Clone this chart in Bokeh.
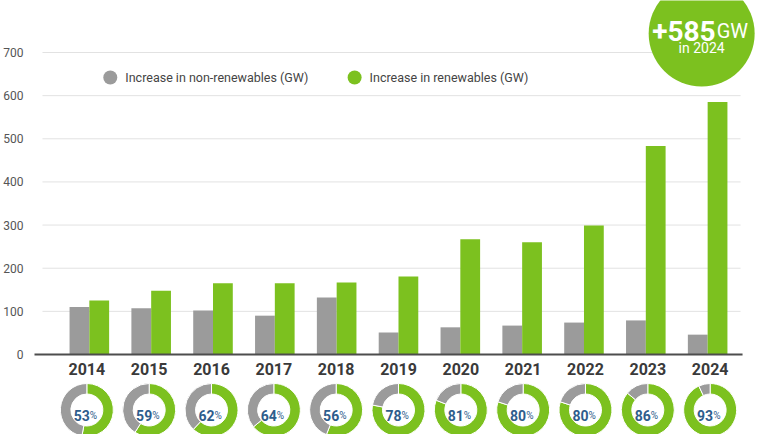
import numpy as np
from bokeh.plotting import figure
from bokeh.models import Range1d, FixedTicker
from bokeh.core.properties import value
from bokeh.embed import file_html
from bokeh.resources import INLINE

# Annual capacity additions (GW)
years = ["2014", "2015", "2016", "2017", "2018", "2019", "2020", "2021", "2022", "2023", "2024"]
non_renewables = [110, 107, 102, 90, 132, 51, 63, 67, 74, 79, 46]
renewables = [125, 148, 165, 165, 167, 181, 267, 260, 299, 483, 585]
renewable_share = [53, 59, 62, 64, 56, 78, 81, 80, 80, 86, 93]
y_ticks = [0, 100, 200, 300, 400, 500, 600, 700]

GREEN = "#7cc11f"
GREY = "#9b9b9b"
FONT = value("Roboto")

W, H = 760, 434
LEFT = 30
# category spacing and vertical scale of the drawing area
STEP_PX = 62.0
FIRST_PX = 87.0
ZERO_PX = 354.0
PX_PER_GW = 302.0 / 700.0
# the year / donut row uses a slightly wider pitch than the bars
ROW_FIRST_PX = 84.5
ROW_STEP_PX = 62.5


def px_x(px):
    return (px - FIRST_PX) / STEP_PX


def px_y(py):
    return (ZERO_PX - py) / PX_PER_GW


x_range = Range1d(px_x(LEFT), px_x(W))
y_range = Range1d(px_y(H), px_y(0))

p = figure(width=W, height=H, x_range=x_range, y_range=y_range,
           output_backend="svg", toolbar_location=None,
           x_axis_location=None, y_axis_location="left",
           min_border_left=LEFT, min_border_right=0, min_border_top=0, min_border_bottom=0)
p.outline_line_color = None
p.xgrid.grid_line_color = None
p.ygrid.grid_line_color = None
p.background_fill_color = "white"
p.border_fill_color = "white"

ax = p.yaxis[0]
ax.ticker = FixedTicker(ticks=y_ticks)
ax.axis_line_color = None
ax.major_tick_line_color = None
ax.minor_tick_line_color = None
ax.major_label_standoff = 3
ax.major_label_text_font = "Roboto"
ax.major_label_text_font_size = "12px"
ax.major_label_text_color = "#555555"

idx = np.arange(len(years))
row_x = px_x(ROW_FIRST_PX + ROW_STEP_PX * idx)

# horizontal gridlines
grid_vals = y_ticks[1:]
p.segment(x0=[px_x(40)] * len(grid_vals), x1=[px_x(740)] * len(grid_vals),
          y0=grid_vals, y1=grid_vals, line_color="#e2e2e2", line_width=1)

# bars
p.vbar(x=idx - 0.16, top=non_renewables, width=0.32, bottom=0,
       fill_color=GREY, line_color=None)
p.vbar(x=idx + 0.16, top=renewables, width=0.32, bottom=0,
       fill_color=GREEN, line_color=None)

# baseline
p.segment(x0=[px_x(32)], x1=[px_x(742)], y0=[0], y1=[0],
          line_color="#4d4d4d", line_width=2)

# year labels
p.text(x=row_x, y=[px_y(368)] * len(years), text=years,
       text_font=FONT, text_font_style="bold", text_font_size="16px",
       text_color="#3a3a3a", text_align="center", text_baseline="middle")

# renewable share donuts
share = np.array(renewable_share) / 100.0
donut_y = [px_y(409.5)] * len(years)
top = np.pi / 2
split = top - share * 2 * np.pi
p.annular_wedge(x=row_x, y=donut_y, inner_radius=16, outer_radius=26.5,
                inner_radius_units="screen", outer_radius_units="screen",
                start_angle=[top] * len(years), end_angle=split, direction="clock",
                fill_color=GREEN, line_color="white", line_width=1)
p.annular_wedge(x=row_x, y=donut_y, inner_radius=16, outer_radius=26.5,
                inner_radius_units="screen", outer_radius_units="screen",
                start_angle=split, end_angle=[top - 2 * np.pi] * len(years), direction="clock",
                fill_color=GREY, line_color="white", line_width=1)

p.text(x=row_x, y=donut_y, text=[str(s) for s in renewable_share],
       x_offset=3, y_offset=5,
       text_font=FONT, text_font_style="bold", text_font_size="14px",
       text_color="#2e5d8c", text_align="right", text_baseline="alphabetic")
p.text(x=row_x, y=donut_y, text=["%"] * len(years),
       x_offset=3, y_offset=5,
       text_font=FONT, text_font_size="10px",
       text_color="#2e5d8c", text_align="left", text_baseline="alphabetic")

# legend
leg_y = px_y(77)
p.scatter(x=[px_x(108), px_x(353)], y=[leg_y, leg_y], size=14,
          fill_color=[GREY, GREEN], line_color=None)
p.text(x=[px_x(108), px_x(353)], y=[leg_y, leg_y],
       text=["Increase in non-renewables (GW)", "Increase in renewables (GW)"],
       x_offset=15, text_font=FONT, text_font_size="12.5px",
       text_color="#444444", text_align="left", text_baseline="middle")

# headline bubble for the latest year
last = len(years) - 1
bx, by = px_x(701), px_y(33)
p.scatter(x=[bx], y=[by], size=106, fill_color=GREEN, line_color=None)
p.text(x=[bx], y=[by], text=[f"+{renewables[last]}"], x_offset=14, y_offset=-3,
       text_font=FONT, text_font_style="bold", text_font_size="28px",
       text_color="white", text_align="right", text_baseline="alphabetic")
p.text(x=[bx], y=[by], text=["GW"], x_offset=15, y_offset=-3,
       text_font=FONT, text_font_size="20px",
       text_color="white", text_align="left", text_baseline="alphabetic")
p.text(x=[bx], y=[by], text=[f"in {years[last]}"], y_offset=14,
       text_font=FONT, text_font_size="14px",
       text_color="white", text_align="center", text_baseline="middle")

open("out.html", "w").write(file_html(p, INLINE))
